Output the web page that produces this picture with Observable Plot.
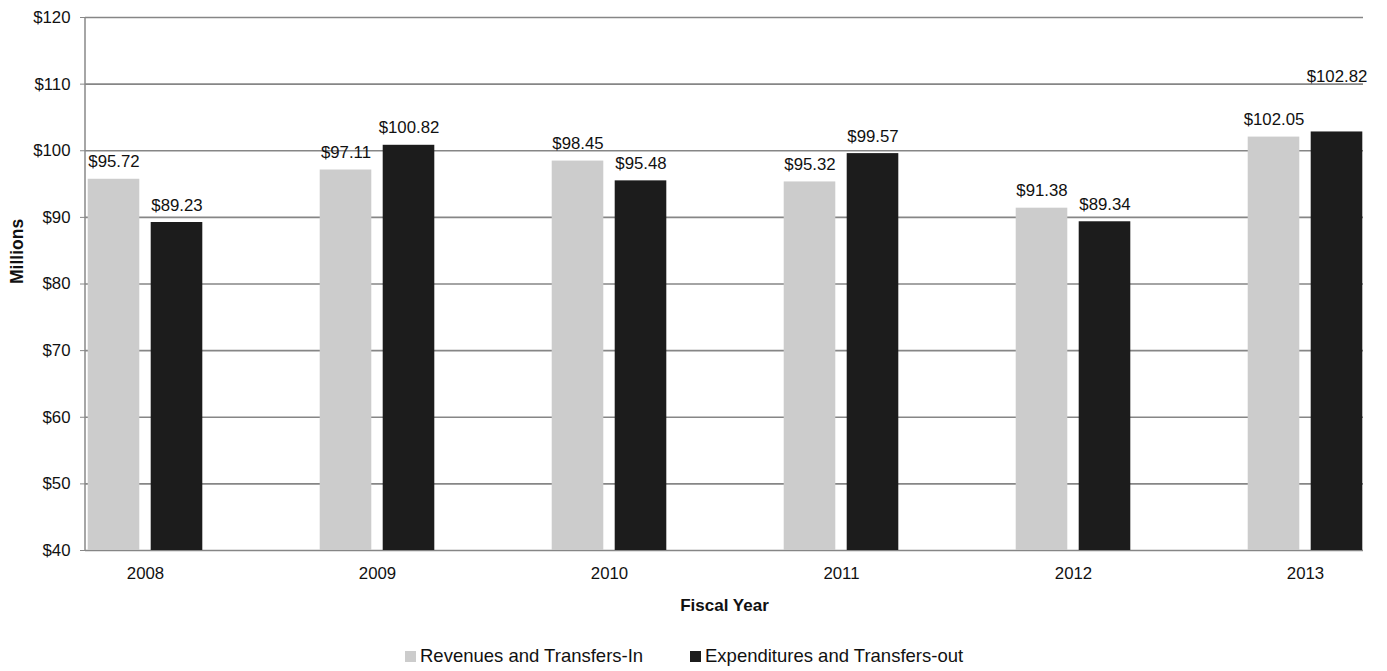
<!DOCTYPE html>
<html>
<head>
<meta charset="utf-8">
<script src="https://cdn.jsdelivr.net/npm/d3@7"></script>
<script src="https://cdn.jsdelivr.net/npm/@observablehq/plot@0.6"></script>
<style>
  html, body { margin: 0; padding: 0; background: #fff; overflow: hidden; }
  #wrap { position: relative; width: 1387px; height: 671px; font-family: "Liberation Sans", Arial, sans-serif; color: #111; }
  .leg { position: absolute; top: 645px; font-size: 18.5px; line-height: 22px; white-space: nowrap; display: flex; align-items: center; }
  .sw { display: inline-block; width: 11px; height: 11px; margin-right: 4px; }
</style>
</head>
<body>
<div id="wrap"></div>
<script>
const years = ["2008", "2009", "2010", "2011", "2012", "2013"];
const revenues = [95.72, 97.11, 98.45, 95.32, 91.38, 102.05];
const expenditures = [89.23, 100.82, 95.48, 99.57, 89.34, 102.82];
const seriesNames = ["Revenues and Transfers-In", "Expenditures and Transfers-out"];
const seriesColors = ["#cccccc", "#1c1c1c"];
const yTicks = [40, 50, 60, 70, 80, 90, 100, 110, 120];

const revData = years.map((y, i) => ({year: y, value: revenues[i]}));
const expData = years.map((y, i) => ({year: y, value: expenditures[i]}));
const fmt = d => "$" + d.value.toFixed(2);

const W = 1387, H = 620;
const mL = 85, mR = 24, mT = 17, mB = 70;
const FS = 16.8;

const leftLine = (index, scales, values, dims) => {
  const g = d3.create("svg:line")
    .attr("x1", dims.marginLeft).attr("x2", dims.marginLeft)
    .attr("y1", dims.marginTop).attr("y2", dims.height - dims.marginBottom)
    .attr("stroke", "#888").attr("stroke-width", 1.5);
  return g.node();
};

const chart = Plot.plot({
  width: W,
  height: H,
  marginLeft: mL,
  marginRight: mR,
  marginTop: mT,
  marginBottom: mB,
  style: {fontFamily: "'Liberation Sans', Arial, sans-serif", fontSize: FS + "px", color: "#111", background: "#fff"},
  x: {type: "band", domain: years, range: [27.3, 1421.7], padding: 0},
  y: {domain: [40, 120]},
  marks: [
    Plot.ruleY(yTicks, {stroke: "#868686", strokeWidth: 1.6}),
    leftLine,
    Plot.barY(revData, {x: "year", y1: 40, y2: "value", fill: seriesColors[0], insetLeft: 58.7, insetRight: 121.7}),
    Plot.barY(expData, {x: "year", y1: 40, y2: "value", fill: seriesColors[1], insetLeft: 121.7, insetRight: 58.7}),
    Plot.text(revData, {x: "year", y: "value", text: fmt, dx: -31.5, dy: -12, lineAnchor: "bottom", fontSize: FS, fill: "#111"}),
    Plot.text(expData.filter(d => d.year !== "2013"), {x: "year", y: "value", text: fmt, dx: 31.5, dy: -12, lineAnchor: "bottom", fontSize: FS, fill: "#111"}),
    Plot.text(expData.filter(d => d.year === "2013"), {x: "year", y: "value", text: fmt, dx: 31.5, dy: -50, lineAnchor: "bottom", fontSize: FS, fill: "#111"}),
    Plot.axisY({ticks: yTicks, tickFormat: d => "$" + d, tickSize: 5, tickPadding: 10, stroke: "#888", fill: "#111", fontSize: FS, label: null}),
    Plot.axisX({tickSize: 0, tickPadding: 17, fill: "#111", fontSize: FS, label: null}),
    Plot.text(["Fiscal Year"], {text: d => d, frameAnchor: "bottom", dy: 60, lineAnchor: "bottom", fontWeight: "bold", fontSize: 17, fill: "#111"}),
    Plot.text(["Millions"], {text: d => d, frameAnchor: "left", dx: -68, rotate: -90, fontWeight: "bold", fontSize: 17.5, fill: "#111"})
  ]
});

const wrap = document.getElementById("wrap");
wrap.appendChild(chart);

const legendLefts = [405, 690];
seriesNames.forEach((name, i) => {
  const item = document.createElement("div");
  item.className = "leg";
  item.style.left = legendLefts[i] + "px";
  const sw = document.createElement("span");
  sw.className = "sw";
  sw.style.background = seriesColors[i];
  const t = document.createElement("span");
  t.textContent = name;
  item.appendChild(sw);
  item.appendChild(t);
  wrap.appendChild(item);
});
</script>
</body>
</html>
